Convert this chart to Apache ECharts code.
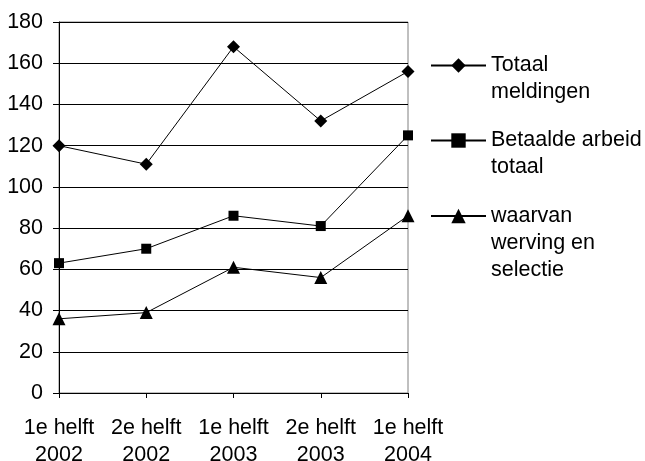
<!DOCTYPE html>
<html>
<head>
<meta charset="utf-8">
<script src="https://cdn.jsdelivr.net/npm/echarts@6/dist/echarts.min.js"></script>
<style>
  html, body { margin: 0; padding: 0; background: #fff; }
  #chart { width: 645px; height: 461px; }
</style>
</head>
<body>
<div id="chart"></div>
<script>
// Half-year periods on the category axis
const periods = ['1e helft\n2002', '2e helft\n2002', '1e helft\n2003', '2e helft\n2003', '1e helft\n2004'];

// Number of reports per half year
const totaalMeldingen = [120, 111, 168, 132, 156];
const betaaldeArbeid = [63, 70, 86, 81, 125];
const wervingSelectie = [36, 39, 61, 56, 86];

const seriesNames = ['Totaal\nmeldingen', 'Betaalde arbeid\ntotaal', 'waarvan\nwerving en\nselectie'];
const yTicks = { min: 0, max: 180, step: 20 };

const FONT = 'Liberation Sans, Arial, sans-serif';
const FS = 21.5;
const LH = 27;

function lineSeries(name, data, symbol, size) {
  return {
    name: name,
    type: 'line',
    data: data,
    symbol: symbol,
    symbolSize: size,
    showAllSymbol: true,
    lineStyle: { color: '#000', width: 1 },
    itemStyle: { color: '#000', borderWidth: 0 },
    emphasis: { disabled: true },
    animation: false,
    z: 3
  };
}

// One legend block per series; blank lines are prepended so the
// marker lines up with the first line of the (multi-line) label.
function legendBlock(name, top) {
  const lines = name.split('\n').length;
  return {
    data: [name],
    left: 430,
    top: top,
    orient: 'vertical',
    padding: 0,
    itemWidth: 55,
    itemHeight: 18,
    selectedMode: false,
    formatter: function (n) { return '\n'.repeat(lines - 1) + n; },
    textStyle: {
      fontFamily: FONT,
      fontSize: FS,
      lineHeight: LH,
      color: '#000'
    }
  };
}

const chart = echarts.init(document.getElementById('chart'), null, { renderer: 'canvas' });
chart.setOption({
  backgroundColor: '#fff',
  animation: false,
  grid: {
    left: 59, right: 237, top: 22, bottom: 68,
    outerBoundsMode: 'none',
    containLabel: false,
    show: true, borderColor: '#808080', borderWidth: 1,
    backgroundColor: 'transparent'
  },
  legend: [
    legendBlock(seriesNames[0], 25),
    legendBlock(seriesNames[1], 100),
    legendBlock(seriesNames[2], 148.5)
  ],
  xAxis: {
    type: 'category',
    data: periods,
    boundaryGap: false,
    axisLine: { lineStyle: { color: '#000', width: 1 } },
    axisTick: { show: true, length: 5, lineStyle: { color: '#000' } },
    axisLabel: {
      color: '#000', fontFamily: FONT, fontSize: FS, lineHeight: LH,
      margin: 22, interval: 0
    },
    splitLine: { show: false }
  },
  yAxis: {
    type: 'value',
    min: yTicks.min, max: yTicks.max, interval: yTicks.step,
    axisLine: { show: true, lineStyle: { color: '#000', width: 1 } },
    axisTick: { show: true, length: 6, lineStyle: { color: '#000' } },
    axisLabel: { color: '#000', fontFamily: FONT, fontSize: FS, margin: 16 },
    splitLine: { show: true, lineStyle: { color: '#000', width: 1 } }
  },
  series: [
    lineSeries(seriesNames[0], totaalMeldingen, 'diamond', 13),
    lineSeries(seriesNames[1], betaaldeArbeid, 'rect', 10),
    lineSeries(seriesNames[2], wervingSelectie, 'triangle', 13)
  ]
});
</script>
</body>
</html>
